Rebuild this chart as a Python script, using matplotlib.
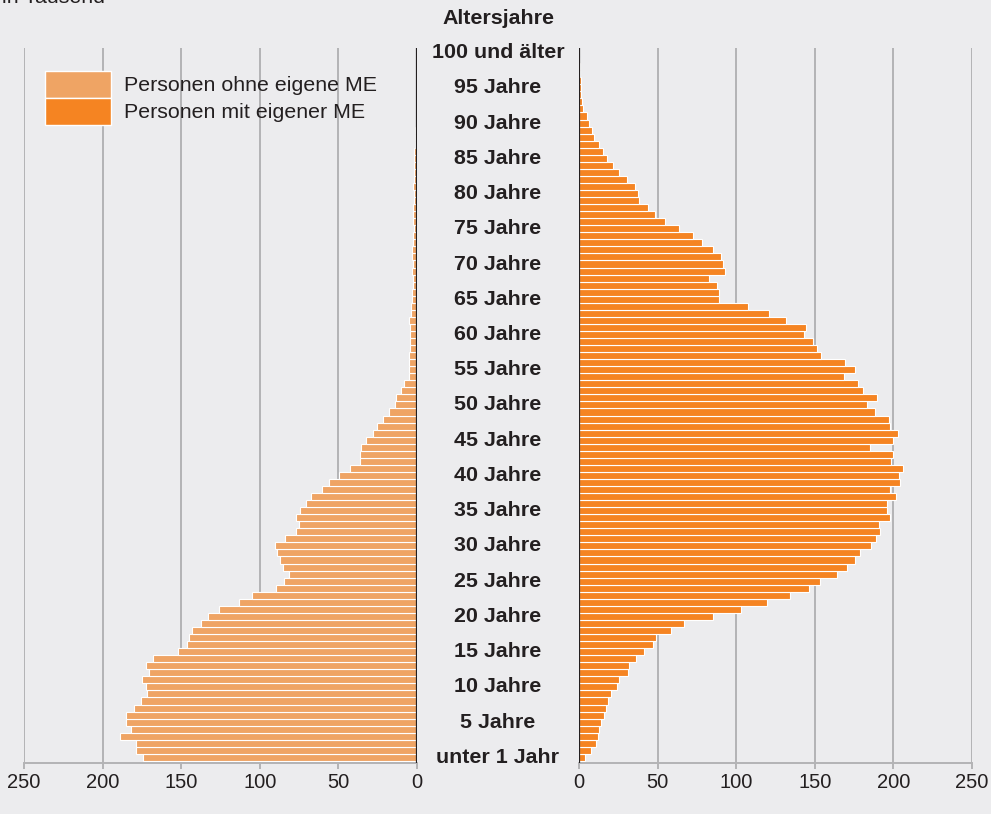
"""
Bevoelkerung nach Altersjahren: Personen ohne / mit eigener ME (in Tausend)
"""

import matplotlib.pyplot as plt
import matplotlib.transforms as mtransforms
from matplotlib.patches import Patch

# ---------------------------------------------------------
# Data
# ---------------------------------------------------------

ages = list(range(0, 101))

ohne_me = [
    174.1, 178.8, 178.6, 188.9, 182.1, 185.1, 184.9, 180.2, 175.6, 171.8,
    172.6, 174.7, 170.5, 172.6, 167.7, 152.2, 146.1, 144.8, 143.1, 137.4,
    133.1, 125.8, 113.2, 104.8, 89.7, 84.6, 81.4, 85.2, 87.2, 89.1,
    90.3, 84.0, 77.0, 75.3, 77.2, 74.4, 70.6, 67.4, 60.4, 56.2,
    49.6, 42.6, 36.5, 36.3, 35.8, 32.4, 28.0, 25.6, 21.8, 17.6,
    14.3, 13.4, 10.4, 8.3, 5.3, 5.1, 5.1, 4.9, 4.2, 4.5,
    4.5, 4.5, 5.1, 3.8, 3.8, 3.4, 3.2, 2.8, 2.8, 3.0,
    2.8, 3.2, 3.0, 2.3, 2.3, 1.9, 2.3, 2.4, 2.4, 2.2,
    2.0, 2.4, 2.0, 2.2, 1.8, 1.8, 1.6, 1.4, 1.2, 1.0,
    0.9, 0.7, 0.5, 0.4, 0.3, 0.2, 0.1, 0.1, 0.05, 0.03,
    0.02,
]

mit_me = [
    4.1, 7.7, 10.6, 12.3, 13.0, 13.8, 15.7, 17.0, 18.3, 20.4,
    24.2, 25.3, 31.2, 32.0, 36.3, 41.4, 47.1, 49.0, 58.6, 67.0,
    85.5, 102.9, 119.8, 134.0, 146.0, 153.2, 164.4, 170.5, 175.4, 178.6,
    185.6, 188.8, 191.7, 191.1, 197.7, 195.8, 196.2, 201.5, 197.7, 204.2,
    203.4, 205.9, 198.3, 199.6, 185.4, 199.6, 203.0, 197.9, 197.0, 188.6,
    183.2, 189.8, 180.9, 177.7, 168.4, 175.4, 169.0, 154.0, 151.4, 149.1,
    143.0, 144.4, 131.7, 120.7, 107.5, 88.9, 88.9, 88.0, 82.7, 92.9,
    91.4, 90.4, 85.5, 78.1, 72.8, 63.9, 54.7, 48.4, 43.9, 38.4,
    37.6, 35.7, 30.6, 25.7, 21.9, 17.8, 15.1, 13.0, 9.8, 8.5,
    6.4, 4.9, 2.6, 1.9, 1.3, 1.1, 1.1, 0.5, 0.4, 0.3,
    0.3,
]

label_ages = list(range(0, 101, 5))
age_labels = (
    ["unter 1 Jahr"]
    + [f"{a} Jahre" for a in range(5, 100, 5)]
    + ["100 und älter"]
)

x_ticks = [0, 50, 100, 150, 200, 250]

legend_labels = ["Personen ohne eigene ME", "Personen mit eigener ME"]

# ---------------------------------------------------------
# Style
# ---------------------------------------------------------

BG = "#ececee"
LIGHT = "#efa464"
DARK = "#f58422"
TEXT = "#231f20"
GRID = "#b3b3b5"

plt.rcParams["font.family"] = ["Liberation Sans", "DejaVu Sans"]

fig = plt.figure(figsize=(9.91, 8.14), dpi=100, facecolor=BG)

bottom = 1 - 763 / 814
height = (763 - 48) / 814
ax_l = fig.add_axes([24 / 991, bottom, 393 / 991, height])
ax_r = fig.add_axes([579 / 991, bottom, 393 / 991, height])


def _style_axis(ax):
    ax.set_facecolor(BG)
    ax.set_xlim(0, 250)
    ax.set_ylim(-0.8, 100.65)
    ax.set_xticks(x_ticks)
    ax.set_yticks([])
    ax.set_axisbelow(True)
    ax.grid(axis="x", color=GRID, linewidth=1.4)
    for side in ["top", "left", "right"]:
        ax.spines[side].set_visible(False)
    ax.spines["bottom"].set_color(GRID)
    ax.spines["bottom"].set_linewidth(1.4)
    ax.tick_params(
        axis="x", colors=GRID, length=4, width=1.4, pad=3,
        labelsize=14.5, labelcolor=TEXT
    )
    ax.axvline(0, color=TEXT, linewidth=1.6, zorder=3)


# ---------------------------------------------------------
# Bars
# ---------------------------------------------------------

ax_l.barh(ages, ohne_me, height=1.0, color=LIGHT,
          edgecolor="white", linewidth=0.8, zorder=2)
_style_axis(ax_l)
ax_l.invert_xaxis()

ax_r.barh(ages, mit_me, height=1.0, color=DARK,
          edgecolor="white", linewidth=0.8, zorder=2)
_style_axis(ax_r)

# ---------------------------------------------------------
# Age labels in the middle
# ---------------------------------------------------------

trans = mtransforms.blended_transform_factory(fig.transFigure, ax_l.transData)
for a, lab in zip(label_ages, age_labels):
    fig.text(498 / 991, a, lab, transform=trans, ha="center", va="center",
             fontsize=15.4, fontweight="bold", color=TEXT)

fig.text(498 / 991, 1 - 19 / 814, "Altersjahre", ha="center", va="center",
         fontsize=15.4, fontweight="bold", color=TEXT)

fig.text(2 / 991, 1 - 3 / 814, "in Tausend", ha="left", va="baseline",
         fontsize=15.4, color=TEXT)

# ---------------------------------------------------------
# Legend
# ---------------------------------------------------------

handles = [
    Patch(facecolor=LIGHT, edgecolor="white", linewidth=1.0),
    Patch(facecolor=DARK, edgecolor="white", linewidth=1.0),
]
fig.legend(
    handles, legend_labels,
    loc="upper left",
    bbox_to_anchor=(45 / 991, 1 - 71 / 814),
    bbox_transform=fig.transFigure,
    frameon=False,
    fontsize=15.4,
    handlelength=3.1,
    handleheight=1.55,
    handletextpad=0.6,
    labelspacing=0.0,
    borderpad=0.0,
    borderaxespad=0.0,
    labelcolor=TEXT,
)

fig.savefig("out.png", dpi=100, facecolor=BG)
